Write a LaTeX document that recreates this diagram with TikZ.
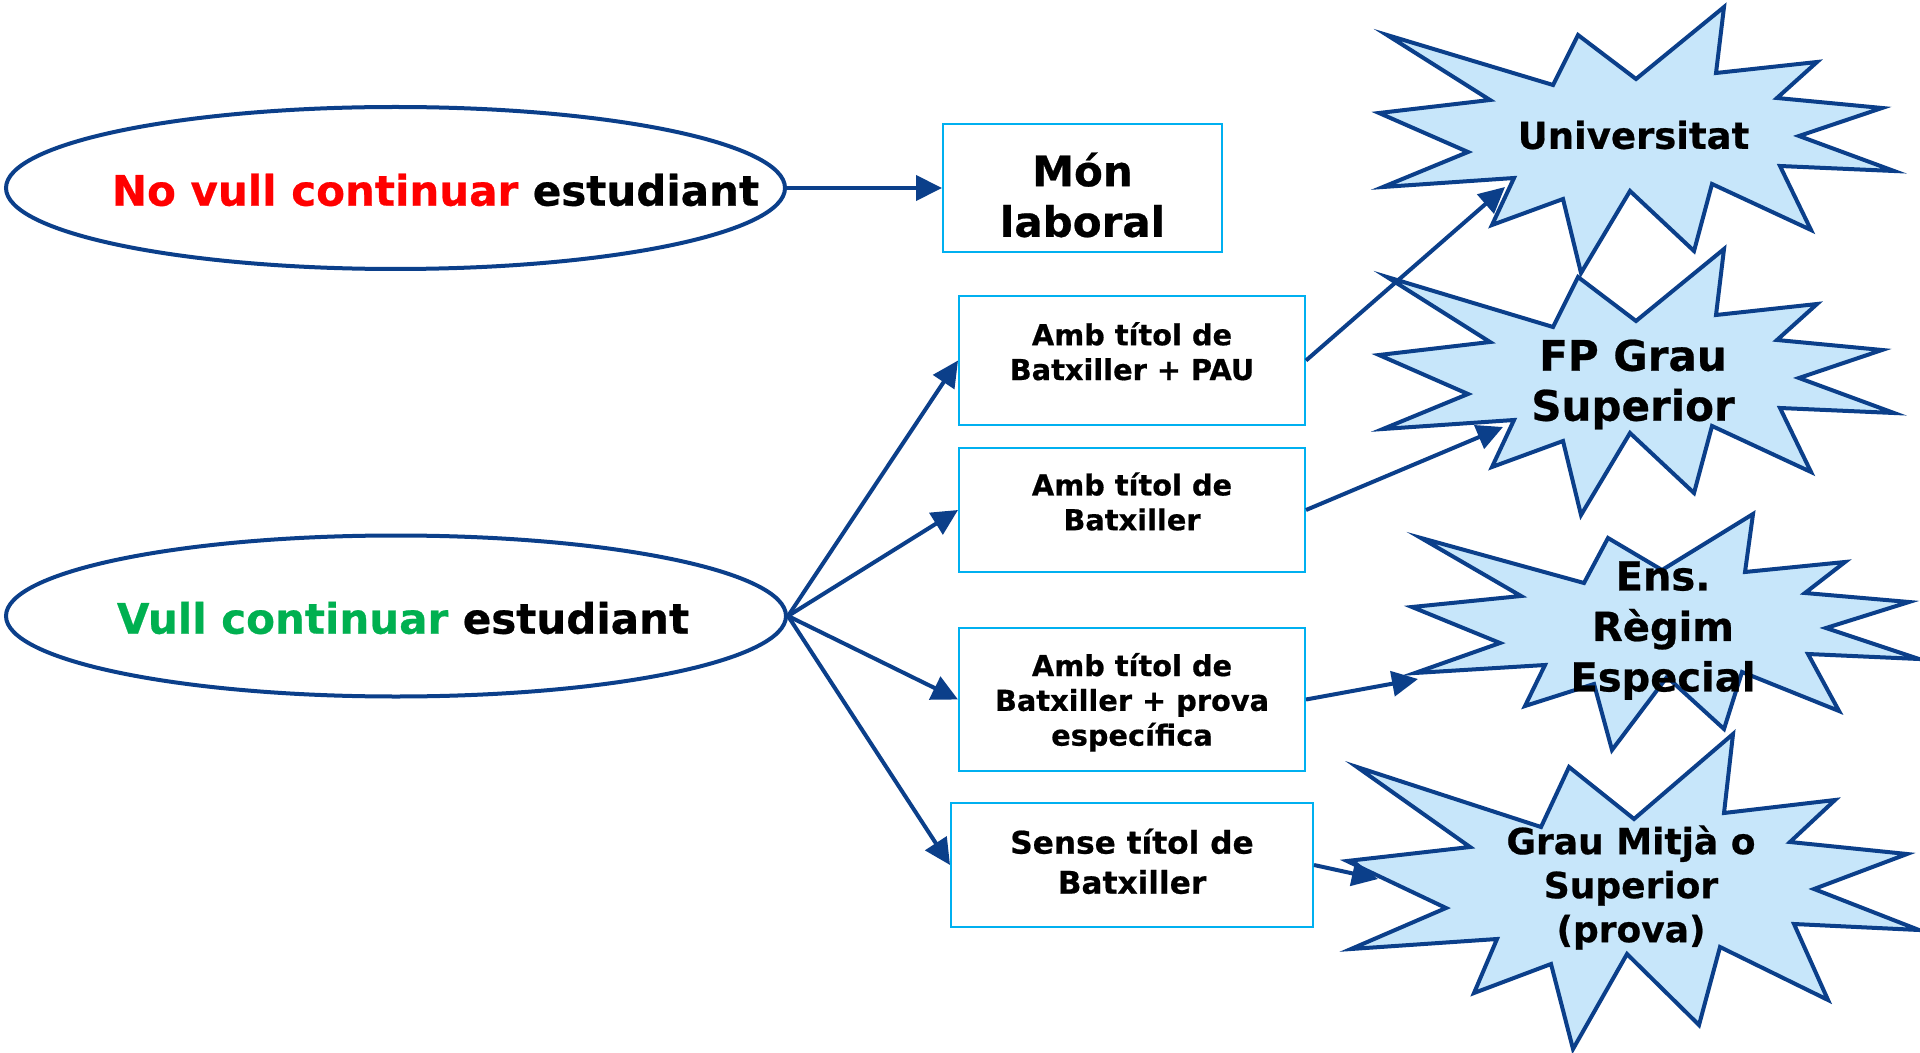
\documentclass[tikz,border=0pt]{standalone}
\usepackage{fontspec}
\setmainfont{DejaVu Sans}[BoldFeatures={FakeBold=0.6}]
\usetikzlibrary{shapes.geometric,arrows.meta}
\definecolor{navy}{RGB}{11,63,138}
\definecolor{starfill}{RGB}{199,230,250}
\definecolor{boxline}{RGB}{0,176,240}
\definecolor{nored}{RGB}{255,0,0}
\definecolor{yesgreen}{RGB}{0,176,80}
\tikzset{
  ell/.style={ellipse, draw=navy, line width=2pt, inner sep=0pt},
  rbox/.style={rectangle, draw=boxline, line width=1pt, inner sep=0pt, fill=white},
  lbl/.style={align=center, inner sep=0pt, text=black},
  starshape/.style={draw=navy, fill=starfill, line width=2pt, line join=miter},
  arr/.style={draw=navy, line width=2pt, -{Triangle[length=13pt,width=12.5pt]}},
}
\begin{document}
\begin{tikzpicture}[x=0.5pt,y=-0.5pt]
\useasboundingbox (0,0) rectangle (1920,1053);
\fill[white] (0,0) rectangle (1920,1053);

% ellipses
\node[ell, minimum width=389.5pt, minimum height=81pt] (e1) at (395.5,188) {};
\node[ell, minimum width=390pt, minimum height=80.5pt] (e2) at (396,616) {};
\node[lbl, font=\fontsize{21pt}{25pt}\selectfont\bfseries] (e1t) at (435.5,190) {\textcolor{nored}{No vull continuar} estudiant};
\node[lbl, font=\fontsize{21pt}{25pt}\selectfont\bfseries] (e2t) at (403,618) {\textcolor{yesgreen}{Vull continuar} estudiant};

% boxes
\node[rbox, minimum width=139.5pt, minimum height=64pt] (mon) at (1082.5,188) {};
\node[rbox, minimum width=173pt, minimum height=64pt] (b1) at (1132,360.5) {};
\node[rbox, minimum width=173pt, minimum height=62.25pt] (b2) at (1132,510) {};
\node[rbox, minimum width=173pt, minimum height=71.5pt] (b3) at (1132,699.5) {};
\node[rbox, minimum width=181pt, minimum height=62pt] (b4) at (1132,865) {};

\node[lbl, font=\fontsize{21pt}{25.3pt}\selectfont\bfseries] (mont) at (1082.5,195) {Món\\laboral};
\node[lbl, font=\fontsize{14.4pt}{17.4pt}\selectfont\bfseries] (b1t) at (1132,351.3) {Amb títol de\\Batxiller + PAU};
\node[lbl, font=\fontsize{14.4pt}{17.4pt}\selectfont\bfseries] (b2t) at (1132,501.5) {Amb títol de\\Batxiller};
\node[lbl, font=\fontsize{14.4pt}{17.4pt}\selectfont\bfseries] (b3t) at (1132,702.3) {Amb títol de\\Batxiller + prova\\específica};
\node[lbl, font=\fontsize{15.6pt}{20pt}\selectfont\bfseries] (b4t) at (1132,861.4) {Sense títol de\\Batxiller};

% starbursts
\draw[starshape] (1387,35) -- (1553,85) -- (1578,35) -- (1636,79) -- (1724,7) -- (1716,73) -- (1817,62) -- (1777,98) -- (1882,108) -- (1799,136) -- (1894,171) -- (1780,166) -- (1811,230) -- (1712,184) -- (1694,251) -- (1630,191) -- (1581,273) -- (1563,199) -- (1492,225) -- (1514,178) -- (1383,187) -- (1468,152) -- (1379,113) -- (1490,100) -- cycle;
\begin{scope}[shift={(0,242)}]
\draw[starshape] (1387,35) -- (1553,85) -- (1578,35) -- (1636,79) -- (1724,7) -- (1716,73) -- (1817,62) -- (1777,98) -- (1882,108) -- (1799,136) -- (1894,171) -- (1780,166) -- (1811,230) -- (1712,184) -- (1694,251) -- (1630,191) -- (1581,273) -- (1563,199) -- (1492,225) -- (1514,178) -- (1383,187) -- (1468,152) -- (1379,113) -- (1490,100) -- cycle;
\end{scope}
\draw[starshape] (1421,538) -- (1584,583) -- (1608,538) -- (1662,570) -- (1753,514) -- (1745,572) -- (1845,562) -- (1805,593) -- (1909,602) -- (1826,628) -- (1919,659) -- (1808,654) -- (1839,711) -- (1742,672) -- (1724,729) -- (1667,677) -- (1612,750) -- (1594,684) -- (1525,706) -- (1545,665) -- (1415,673) -- (1500,643) -- (1412,607) -- (1521,596) -- cycle;
\draw[starshape] (1357,767) -- (1541,827) -- (1569,767) -- (1634,819) -- (1733,734) -- (1724,813) -- (1835,800) -- (1790,842) -- (1907,854) -- (1814,889) -- (1919,930) -- (1794,924) -- (1828,1000) -- (1720,947) -- (1699,1025) -- (1627,954) -- (1573,1049) -- (1551,964) -- (1474,993) -- (1497,939) -- (1351,949) -- (1446,908) -- (1347,861) -- (1470,847) -- cycle;

\node[lbl, font=\fontsize{18.5pt}{22pt}\selectfont\bfseries] (uni) at (1633.5,135) {Universitat};
\node[lbl, font=\fontsize{21pt}{25pt}\selectfont\bfseries] (fp) at (1633,384.5) {FP Grau\\Superior};
\node[lbl, font=\fontsize{20pt}{25.25pt}\selectfont\bfseries] (ens) at (1663,630.5) {Ens.\\Règim\\Especial};
\node[lbl, font=\fontsize{18pt}{22pt}\selectfont\bfseries] (grau) at (1631,887.5) {Grau Mitjà o\\Superior\\(prova)};

% arrow targets inside the starbursts
\coordinate (tU) at (1505,187);
\coordinate (tF) at (1503,427);
\coordinate (tE) at (1418,679);
\coordinate (tG) at (1378,879);

% connectors
\draw[arr] (e1.east) -- (mon.west);
\draw[arr] (e2.east) -- (b1.west);
\draw[arr] (e2.east) -- (b2.west);
\draw[arr] (e2.east) -- (b3.west);
\draw[arr] (e2.east) -- (b4.west);
\draw[arr] (b1.east) -- (tU);
\draw[arr] (b2.east) -- (tF);
\draw[arr] (b3.east) -- (tE);
\draw[arr] (b4.east) -- (tG);
\end{tikzpicture}
\end{document}
